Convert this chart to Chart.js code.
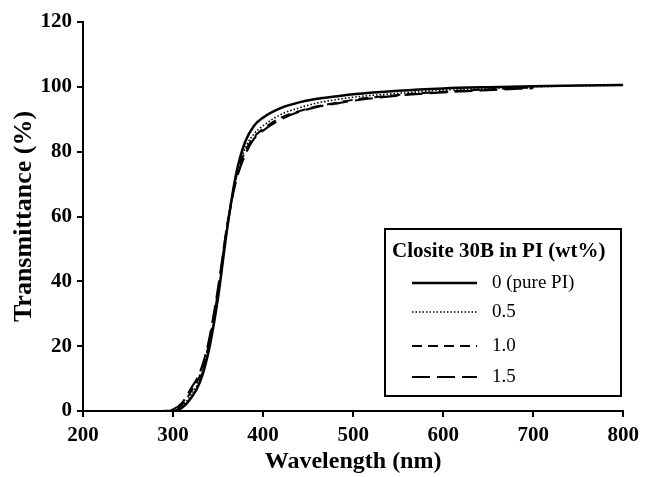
<!DOCTYPE html>
<html>
<head>
<meta charset="utf-8">
<script src="https://cdn.jsdelivr.net/npm/chart.js@4"></script>
<style>
  html, body { margin: 0; padding: 0; background: #fff; }
  #wrap { width: 645px; height: 477px; }
</style>
</head>
<body>
<div id="wrap"><canvas id="myChart" width="645" height="477"></canvas></div>
<script>
// wavelength (nm)
var wavelength = [270, 280, 290, 300, 310, 320, 330, 340, 350, 360, 370, 380, 390, 400, 420, 440, 460, 480, 500, 550, 600, 650, 700, 750, 800];
// transmittance (%) for each clay loading
var pure  = [null, null, 0, 0, 1, 4, 9, 19, 35, 56, 73, 83, 88, 90.5, 93.5, 95.2, 96.3, 97, 97.7, 98.8, 99.5, 99.9, 100.2, 100.4, 100.6];
var wt05  = [null, 0, 0, 0, 1.5, 5, 10, 20, 36, 56, 72, 81, 85.5, 88, 91.5, 93.5, 95, 96, 96.8, 98, 99, 99.5, 100, 100.3, 100.5];
var wt10  = [0, 0, 0, 0, 2, 6, 11, 21, 37, 57, 72, 80, 84.5, 87, 90.5, 92.5, 94, 95, 96, 97.5, 98.5, 99.2, 99.8, null, null];
var wt15  = [0, 0, 0, 0.5, 2.5, 7, 12, 22, 38, 57, 71, 79, 84, 86.5, 90, 92.3, 93.8, 94.8, 95.7, 97.3, 98.3, 99, 99.6, null, null];
var seriesLabels = ['0 (pure PI)', '0.5', '1.0', '1.5'];
var xTicks = [200, 300, 400, 500, 600, 700, 800];
var yTicks = [0, 20, 40, 60, 80, 100, 120];

function pts(vals) {
  var out = [];
  wavelength.forEach(function (w, i) {
    if (vals[i] !== null) out.push({ x: w, y: vals[i] });
  });
  return out;
}

var styles = [
  { width: 2.5, dash: [] },
  { width: 1.6, dash: [1.5, 2] },
  { width: 2, dash: [10, 6] },
  { width: 2.2, dash: [18, 7] }
];

var allSeries = [pure, wt05, wt10, wt15];
var datasets = allSeries.map(function (s, i) {
  return {
    label: seriesLabels[i],
    data: pts(s),
    borderColor: '#000',
    borderWidth: styles[i].width,
    borderDash: styles[i].dash,
    pointRadius: 0,
    fill: false,
    cubicInterpolationMode: 'monotone'
  };
});

var serif = '"Liberation Serif", "Times New Roman", serif';

// legend box drawn inside the plot
var boxLegend = {
  id: 'boxLegend',
  afterDraw: function (chart) {
    var ctx = chart.ctx;
    var left = 385, top = 229, w = 236, h = 167;
    ctx.save();
    ctx.fillStyle = '#fff';
    ctx.fillRect(left, top, w, h);
    ctx.lineWidth = 2;
    ctx.strokeStyle = '#000';
    ctx.setLineDash([]);
    ctx.strokeRect(left, top, w, h);
    ctx.fillStyle = '#000';
    ctx.textBaseline = 'middle';
    ctx.font = 'bold 21px ' + serif;
    ctx.fillText('Closite 30B in PI (wt%)', left + 7, top + 23);
    var rows = [283, 312, 346, 377];
    chart.data.datasets.forEach(function (ds, i) {
      ctx.beginPath();
      ctx.lineWidth = ds.borderWidth;
      ctx.setLineDash(ds.borderDash);
      ctx.moveTo(412, rows[i]);
      ctx.lineTo(477, rows[i]);
      ctx.stroke();
      ctx.setLineDash([]);
      ctx.font = '19px ' + serif;
      ctx.fillText(ds.label, 492, rows[i]);
    });
    ctx.restore();
  }
};

var ctx = document.getElementById('myChart').getContext('2d');
var myChart = new Chart(ctx, {
  type: 'line',
  data: { datasets: datasets },
  plugins: [boxLegend],
  options: {
    responsive: false,
    animation: false,
    layout: { padding: { top: 22, right: 20, left: 0, bottom: 0 } },
    plugins: { legend: { display: false }, tooltip: { enabled: false } },
    scales: {
      x: {
        type: 'linear',
        min: 200,
        max: 800,
        afterBuildTicks: function (scale) {
          scale.ticks = xTicks.map(function (v) { return { value: v }; });
        },
        afterFit: function (scale) { scale.height = 66; },
        grid: { drawOnChartArea: false, drawTicks: true, tickLength: 6, color: '#000', lineWidth: 2 },
        border: { display: true, color: '#000', width: 2 },
        ticks: { color: '#000', padding: 6, maxRotation: 0, font: { family: serif, size: 21, weight: 'bold' } },
        title: { display: true, text: 'Wavelength (nm)', color: '#000', padding: { top: 0, bottom: 1 }, font: { family: serif, size: 24, weight: 'bold' } }
      },
      y: {
        min: 0,
        max: 120,
        afterBuildTicks: function (scale) {
          scale.ticks = yTicks.map(function (v) { return { value: v }; });
        },
        afterFit: function (scale) { scale.width = 83; },
        grid: { drawOnChartArea: false, drawTicks: true, tickLength: 6, color: '#000', lineWidth: 2 },
        border: { display: true, color: '#000', width: 2 },
        ticks: { color: '#000', padding: 5, font: { family: serif, size: 21, weight: 'bold' } },
        title: { display: true, text: 'Transmittance (%)', color: '#000', padding: { top: 9, bottom: 0 }, font: { family: serif, size: 26, weight: 'bold' } }
      }
    }
  }
});
</script>
</body>
</html>
